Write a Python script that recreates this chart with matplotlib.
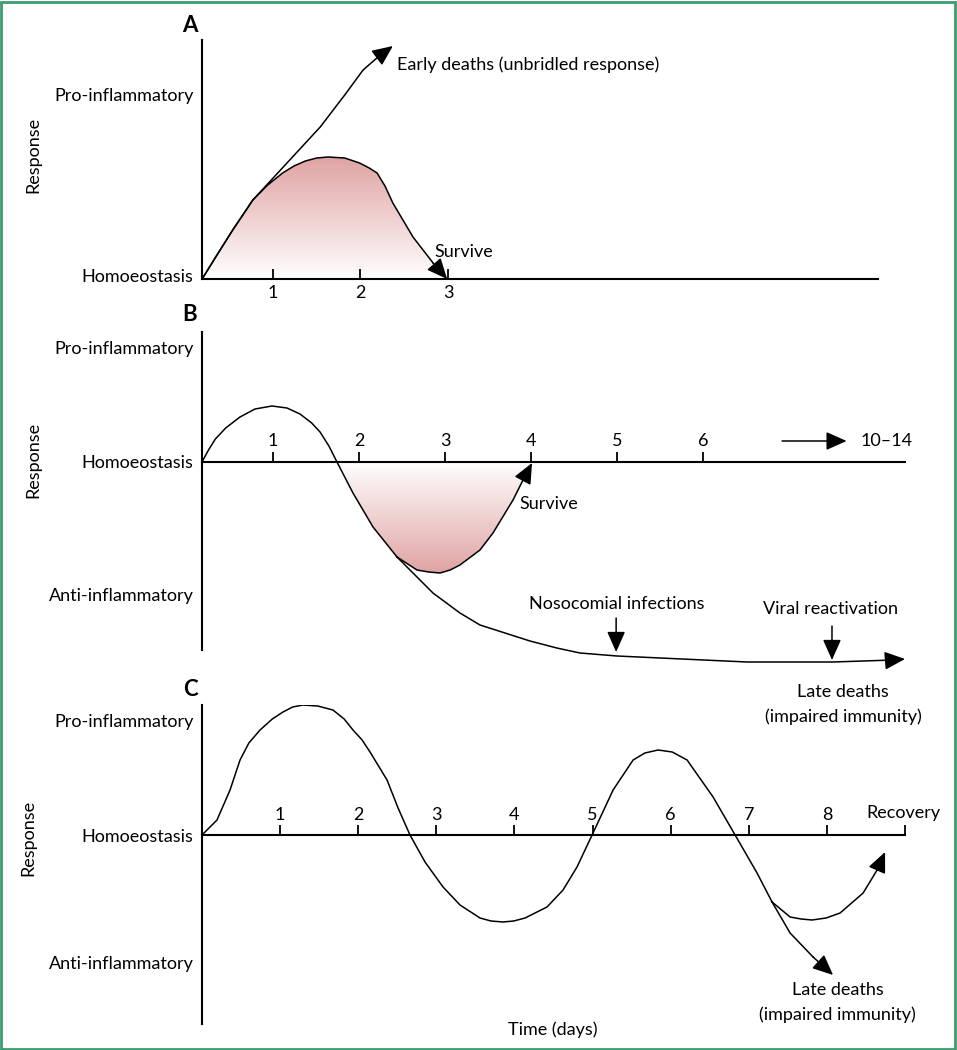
import numpy as np
import matplotlib
matplotlib.use('Agg')
import matplotlib.pyplot as plt
from matplotlib.patches import Polygon, Rectangle
from matplotlib.colors import LinearSegmentedColormap

plt.rcParams['font.family'] = ['Lato', 'DejaVu Sans']
FS = 13

# ---- panel A data (x in days, y in response units) ----
a_days = [1, 2, 3]
a_shade_x = [0.19, 0.36, 0.54, 0.77, 0.94, 1.11, 1.24, 1.37, 1.50, 1.63, 1.82, 1.99, 2.10, 2.19,
             2.28, 2.37, 2.60, 2.83, 2.99]
a_shade_y = [0.0, 0.24, 0.49, 0.79, 0.94, 1.06, 1.13, 1.18, 1.21, 1.22, 1.21, 1.16, 1.11, 1.06,
             0.93, 0.76, 0.42, 0.16, 0.0]
a_early_x = [0.19, 0.36, 0.54, 0.77, 1.16, 1.54, 1.82, 2.03, 2.20, 2.37]
a_early_y = [0.0, 0.24, 0.49, 0.79, 1.16, 1.52, 1.84, 2.09, 2.22, 2.33]

# ---- panel B data ----
b_days = [1, 2, 3, 4, 5, 6]
b_main_x = [0.174, 0.25, 0.33, 0.45, 0.616, 0.791, 0.988, 1.163, 1.314, 1.45, 1.547, 1.65,
            1.744, 1.930, 2.163, 2.442]
b_main_y = [0.0, 0.12, 0.23, 0.34, 0.45, 0.53, 0.56, 0.54, 0.48, 0.39, 0.30, 0.16,
            0.0, -0.31, -0.65, -0.95]
b_surv_x = [2.442, 2.674, 2.81, 2.942, 3.06, 3.174, 3.407, 3.558, 3.791, 3.907, 4.012]
b_surv_y = [-0.95, -1.08, -1.10, -1.11, -1.08, -1.03, -0.88, -0.71, -0.38, -0.18, -0.01]
b_late_x = [2.442, 2.860, 3.174, 3.407, 3.988, 4.300, 4.570, 5.0, 6.512, 7.512, 8.209, 8.349]
b_late_y = [-0.95, -1.31, -1.51, -1.63, -1.79, -1.86, -1.91, -1.94, -2.00, -2.00, -1.98, -1.97]

# ---- panel C data ----
c_days = [1, 2, 3, 4, 5, 6, 7, 8]
c_main_x = [0, 0.192, 0.359, 0.487, 0.6, 0.743, 0.9, 1.037, 1.16, 1.293, 1.48, 1.677, 1.82,
            1.933, 2.05, 2.151, 2.369, 2.510, 2.663, 2.855, 3.086, 3.303, 3.559, 3.70, 3.854,
            3.99, 4.136, 4.417, 4.622, 4.801, 4.994, 5.263, 5.519, 5.67, 5.839, 6.02, 6.210,
            6.543, 6.825, 7.106, 7.298]
c_main_y = [0, 0.15, 0.45, 0.75, 0.92, 1.05, 1.16, 1.23, 1.28, 1.30, 1.29, 1.25, 1.16,
            1.05, 0.95, 0.83, 0.55, 0.27, 0, -0.27, -0.52, -0.70, -0.83, -0.86, -0.87,
            -0.86, -0.83, -0.72, -0.55, -0.32, 0, 0.45, 0.75, 0.82, 0.85, 0.83, 0.75,
            0.38, 0, -0.38, -0.67]
c_rec_x = [7.298, 7.529, 7.67, 7.810, 7.99, 8.169, 8.464, 8.643, 8.745]
c_rec_y = [-0.67, -0.82, -0.84, -0.85, -0.83, -0.78, -0.58, -0.35, -0.17]
c_late_x = [7.298, 7.529, 7.823, 8.079]
c_late_y = [-0.67, -0.98, -1.22, -1.40]

W, H = 957, 1050
fig = plt.figure(figsize=(W / 100, H / 100), dpi=100)
fig.patches.append(Rectangle((0.001, 0.001), 0.997, 0.997, transform=fig.transFigure,
                             fill=False, edgecolor='#3d9b70', lw=2))

cmap = LinearSegmentedColormap.from_list('shade', ['white', '#e0a3a3'])
ARROW = dict(arrowstyle='-|>,head_length=0.45,head_width=0.2', mutation_scale=28, lw=1.1,
             color='black', shrinkA=0, shrinkB=0)


def add_panel(x0, x1, y0, y1, xlim, ylim):
    ax = fig.add_axes([x0 / W, 1 - y1 / H, (x1 - x0) / W, (y1 - y0) / H])
    ax.set_facecolor('none')
    for s in ['top', 'right']:
        ax.spines[s].set_visible(False)
    for s in ['left', 'bottom']:
        ax.spines[s].set_linewidth(1.5)
    ax.set_xlim(*xlim)
    ax.set_ylim(*ylim)
    return ax


def arrow(ax, xs, ys):
    ax.plot(xs[:-1], ys[:-1], color='black', lw=1.1, clip_on=False, zorder=3,
            solid_joinstyle='round')
    ax.annotate('', xy=(xs[-1], ys[-1]), xytext=(xs[-2], ys[-2]),
                arrowprops=ARROW, annotation_clip=False, zorder=3)


def shade(ax, xs, ys, ymin, ymax, flip):
    poly = Polygon(list(zip(xs, ys)), closed=True, facecolor='none', edgecolor='none')
    ax.add_patch(poly)
    grad = np.linspace(0, 1, 256)[:, None]
    if flip:
        grad = grad[::-1]
    im = ax.imshow(grad, extent=[min(xs), max(xs), ymin, ymax], origin='lower',
                   cmap=cmap, aspect='auto', zorder=1)
    im.set_clip_path(poly)


def ylabels(ax, pos, labels):
    ax.set_yticks(pos)
    ax.set_yticklabels(labels, fontsize=FS)
    ax.tick_params(axis='y', length=0, pad=6)


# ---------------- Panel A ----------------
axA = add_panel(202, 878, 40, 279, (0.189, 7.914), (0, 2.39))
shade(axA, a_shade_x, a_shade_y, 0, 1.22, False)
arrow(axA, a_shade_x, a_shade_y)
arrow(axA, a_early_x, a_early_y)
axA.set_xticks(a_days)
axA.set_xticklabels([str(d) for d in a_days], fontsize=FS)
axA.tick_params(axis='x', direction='in', length=7.5, width=1.3, pad=4)
ylabels(axA, [1.85, 0.04], ['Pro-inflammatory', 'Homoeostasis'])
axA.text(2.42, 2.14, 'Early deaths (unbridled response)', fontsize=FS, va='center')
axA.text(2.85, 0.27, 'Survive', fontsize=FS, va='center')
axA.text(0.05, 2.54, 'A', fontsize=16, fontweight='bold', ha='center', va='center')
fig.text(33 / W, 1 - 155 / H, 'Response', rotation=90, fontsize=FS, ha='center', va='center')

# ---------------- Panel B ----------------
axB = add_panel(202, 905, 332, 650, (0.1744, 8.349), (-1.88, 1.30))
axB.spines['bottom'].set_position(('data', 0))
shade(axB, b_main_x[12:] + b_surv_x[1:], b_main_y[12:] + b_surv_y[1:], -1.11, 0, True)
axB.plot(b_main_x, b_main_y, color='black', lw=1.1, zorder=3, solid_joinstyle='round')
arrow(axB, b_surv_x, b_surv_y)
arrow(axB, b_late_x, b_late_y)
axB.set_xticks(b_days)
axB.tick_params(axis='x', direction='in', length=7.5, width=1.3, labelbottom=False)
for d in b_days:
    axB.text(d, 0.21, str(d), fontsize=FS, ha='center', va='center')
axB.annotate('', xy=(7.67, 0.21), xytext=(6.92, 0.21), arrowprops=ARROW)
axB.text(7.83, 0.21, '10–14', fontsize=FS, va='center')
ylabels(axB, [1.14, 0, -1.33], ['Pro-inflammatory', 'Homoeostasis', 'Anti-inflammatory'])
axB.text(3.87, -0.42, 'Survive', fontsize=FS, va='center')
axB.text(5.0, -1.42, 'Nosocomial infections', fontsize=FS, ha='center', va='center')
axB.text(7.48, -1.47, 'Viral reactivation', fontsize=FS, ha='center', va='center')
for xd, ya, yb in [(4.99, -1.56, -1.90), (7.5, -1.64, -1.98)]:
    axB.annotate('', xy=(xd, yb), xytext=(xd, ya), arrowprops=ARROW, annotation_clip=False)
axB.text(7.63, -2.30, 'Late deaths', fontsize=FS, ha='center', va='center')
axB.text(7.63, -2.55, '(impaired immunity)', fontsize=FS, ha='center', va='center')
axB.text(0.035, 1.47, 'B', fontsize=16, fontweight='bold', ha='center', va='center')
fig.text(33 / W, 1 - 460 / H, 'Response', rotation=90, fontsize=FS, ha='center', va='center')

# ---------------- Panel C ----------------
axC = add_panel(202, 905, 705, 1024, (0, 9.0), (-1.89, 1.30))
axC.spines['bottom'].set_position(('data', 0))
axC.plot(c_main_x, c_main_y, color='black', lw=1.1, zorder=3, solid_joinstyle='round')
arrow(axC, c_rec_x, c_rec_y)
arrow(axC, c_late_x, c_late_y)
axC.set_xticks(c_days + [9.0])
axC.tick_params(axis='x', direction='in', length=7.5, width=1.3, labelbottom=False)
for d in c_days:
    axC.text(d, 0.20, str(d), fontsize=FS, ha='center', va='center')
axC.text(8.98, 0.22, 'Recovery', fontsize=FS, ha='center', va='center')
ylabels(axC, [1.15, 0, -1.27], ['Pro-inflammatory', 'Homoeostasis', 'Anti-inflammatory'])
axC.text(8.14, -1.55, 'Late deaths', fontsize=FS, ha='center', va='center')
axC.text(8.14, -1.80, '(impaired immunity)', fontsize=FS, ha='center', va='center')
axC.text(4.49, -1.95, 'Time (days)', fontsize=FS, ha='center', va='center')
axC.text(-0.15, 1.45, 'C', fontsize=16, fontweight='bold', ha='center', va='center')
fig.text(28 / W, 1 - 838 / H, 'Response', rotation=90, fontsize=FS, ha='center', va='center')

fig.savefig('out.png', dpi=100, facecolor='white')
